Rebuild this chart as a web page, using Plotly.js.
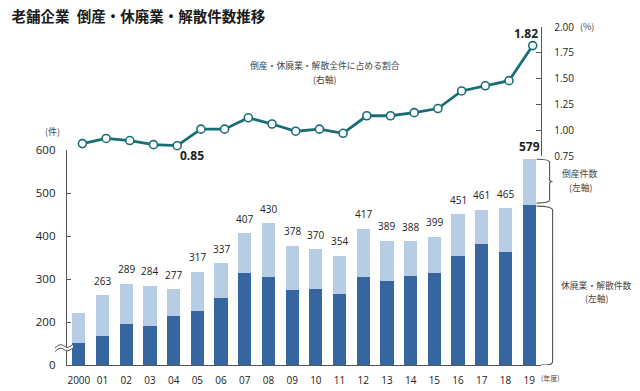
<!DOCTYPE html>
<html>
<head>
<meta charset="utf-8">
<script src="https://cdn.plot.ly/plotly-3.0.1.min.js"></script>
<style>html,body{margin:0;padding:0;background:#fff;}#chart{width:640px;height:391px;}</style>
</head>
<body>
<div id="chart"></div>
<script>
// ---- data ----
const years = ['2000','01','02','03','04','05','06','07','08','09','10','11','12','13','14','15','16','17','18','19'];
const totals = [221,263,289,284,277,317,337,407,430,378,370,354,417,389,388,399,451,461,465,579];
// 休廃業・解散件数 (plotted on broken axis)
const kyuhaigyo = [152,167,195,190,214,225,256,314,305,274,277,265,305,296,307,314,354,382,363,472];
// 倒産件数
const tosan = [69,96,94,94,63,92,81,93,125,104,93,89,112,93,81,85,97,79,102,107];
// 割合 (%)
const ratio = [0.87,0.92,0.90,0.86,0.85,1.01,1.01,1.12,1.06,0.99,1.01,0.97,1.14,1.14,1.17,1.21,1.38,1.43,1.48,1.82];
const leftTickVals = [100,200,300,400,500,600];
const leftTickText = ['0','200','300','400','500','600'];
const rightTickVals = [0.75,1.00,1.25,1.50,1.75,2.00];
const rightTickText = ['0.75','1.00','1.25','1.50','1.75','2.00'];

// ---- layout geometry ----
const L = 67, R = 98.6, T = 27, B = 26;
const W = 640 - L - R, H = 391 - T - B;
const px = x => (x - L) / W;
const py = y => (391 - B - y) / H;
function pth(pts){ return pts.map((p,i)=>(i?'L':'M')+px(p[0]).toFixed(5)+','+py(p[1]).toFixed(5)).join(' '); }

const numFont = 'Open Sans, DejaVu Sans, sans-serif';
const jpFont = 'Noto Sans CJK JP, sans-serif';
const dark = '#35669f', light = '#b7cde6', teal = '#176e76', axisCol = '#555555';

const traces = [
  {type:'bar', x:years, y:kyuhaigyo, marker:{color:dark}, hoverinfo:'skip', name:'休廃業・解散件数'},
  {type:'bar', x:years, y:tosan, marker:{color:light}, hoverinfo:'skip', name:'倒産件数'},
  {type:'scatter', mode:'lines+markers', x:years, y:ratio, xaxis:'x2', yaxis:'y2',
   line:{color:teal, width:2.8}, marker:{size:8, color:'#ffffff', line:{color:teal, width:1.6}},
   hoverinfo:'skip', cliponaxis:false, name:'割合'}
];

const annotations = [];
years.forEach((yr,i)=>{
  const last = i === years.length-1;
  annotations.push({x:yr, y:totals[i], xref:'x', yref:'y', text: last ? '<b>'+totals[i]+'</b>' : String(totals[i]),
    showarrow:false, yanchor:'middle', yshift: last ? 13 : 14.5,
    font:{family:numFont, size: last ? 12 : 10, color:'#222'}});
});
annotations.push({x:years[4], y:ratio[4], xref:'x2', yref:'y2', text:'<b>0.85</b>', showarrow:false,
  xshift:14.5, yshift:-10, font:{family:numFont, size:12, color:'#222'}});
annotations.push({x:years[19], y:ratio[19], xref:'x2', yref:'y2', text:'<b>1.82</b>', showarrow:false,
  xshift:-6.5, yshift:12, font:{family:numFont, size:12, color:'#222'}});

function txt(x,y,t,size,color,family,anchor){
  annotations.push({xref:'paper', yref:'paper', x:px(x), y:py(y), text:t, showarrow:false,
    xanchor:anchor||'center', yanchor:'middle', font:{family:family||jpFont, size:size, color:color||'#444'}});
}
txt(325,65,'倒産・休廃業・解散全件に占める割合',8.8);
txt(325,79,'(右軸)',8.8);
txt(580,173,'倒産件数',8.8);
txt(581,187,'(左軸)',8.8);
txt(597,285,'休廃業・解散件数',8.8);
txt(597,298.5,'(左軸)',8.8);
txt(52,131.5,'(件)',9,'#444');
txt(587,26.5,'(%)',9,'#444');
txt(551,378,'(年度)',7,'#444');

// break mark on left axis (wavy double line)
const shapes = [];
const waveTop = [[55,348],[58,345.5],[61,344.5],[64,346],[67,347.5],[70,346.5],[73,344.5]];
const waveBot = waveTop.map(p=>[p[0],p[1]+3.5]);
shapes.push({type:'path', xref:'paper', yref:'paper', layer:'above',
  path: pth(waveTop) + ' ' + pth(waveBot.slice().reverse()).replace('M','L') + ' Z',
  fillcolor:'#ffffff', line:{width:0}});
shapes.push({type:'path', xref:'paper', yref:'paper', layer:'above', path:pth(waveTop), line:{color:axisCol, width:1}});
shapes.push({type:'path', xref:'paper', yref:'paper', layer:'above', path:pth(waveBot), line:{color:axisCol, width:1}});

// braces on the right
const bx0 = px(537), bx1 = px(550), bx2 = px(553);
const t19 = totals[19], d19 = kyuhaigyo[19];
const mid = (t19 + d19 + 4) / 2;
shapes.push({type:'path', xref:'paper', yref:'y', layer:'above', line:{color:axisCol, width:1.1},
  path:`M${bx0},${t19} Q${bx1},${t19} ${bx1},${t19-7} L${bx1},${mid+4} Q${bx1},${mid} ${bx2},${mid} Q${bx1},${mid} ${bx1},${mid-4} L${bx1},${d19+12} Q${bx1},${d19+5} ${bx0},${d19+5}`});
shapes.push({type:'path', xref:'paper', yref:'y', layer:'above', line:{color:axisCol, width:1.1},
  path:`M${bx0},${d19-2} Q${bx2},${d19-2} ${bx2},${d19-12} L${bx2},108 Q${bx2},100 ${px(545)},100 L1,100`});

const layout = {
  width:640, height:391,
  margin:{l:L, r:R, t:T, b:B, pad:0},
  paper_bgcolor:'#ffffff', plot_bgcolor:'rgba(0,0,0,0)',
  showlegend:false, barmode:'stack', bargap:0.44,
  title:{text:'老舗企業\u2002倒産・休廃業・解散件数推移', x:11.5/640, xanchor:'left', xref:'container',
    y:1-16.7/391, yanchor:'middle', yref:'container',
    font:{family:jpFont, size:14.5, color:'#1a1a1a', weight:700}},
  xaxis:{type:'category', range:[-0.5,19.5], showline:true, linecolor:axisCol, linewidth:1.2,
    ticks:'', showgrid:false, zeroline:false, tickfont:{family:numFont, size:10, color:'#222'},
    ticklabelstandoff:6, fixedrange:true},
  xaxis2:{type:'category', overlaying:'x', range:[-0.65,19.35], visible:false, fixedrange:true},
  yaxis:{domain:[0, py(150.3)], range:[100,600], tickvals:leftTickVals, ticktext:leftTickText,
    showline:true, linecolor:axisCol, linewidth:1.2, ticks:'inside', ticklen:4, tickcolor:axisCol,
    showgrid:false, zeroline:false, tickfont:{family:numFont, size:11.5, color:'#222'},
    ticklabelstandoff:8, fixedrange:true},
  yaxis2:{domain:[py(156), 1], range:[0.75,2.0], anchor:'x', side:'right', tickvals:rightTickVals, ticktext:rightTickText,
    showline:true, linecolor:axisCol, linewidth:1.2, ticks:'inside', ticklen:5, tickcolor:axisCol,
    showgrid:false, zeroline:false, tickfont:{family:numFont, size:10, color:'#222'},
    ticklabelstandoff:10, fixedrange:true},
  annotations:annotations, shapes:shapes
};

Plotly.newPlot('chart', traces, layout, {displayModeBar:false, staticPlot:true});
</script>
</body>
</html>
